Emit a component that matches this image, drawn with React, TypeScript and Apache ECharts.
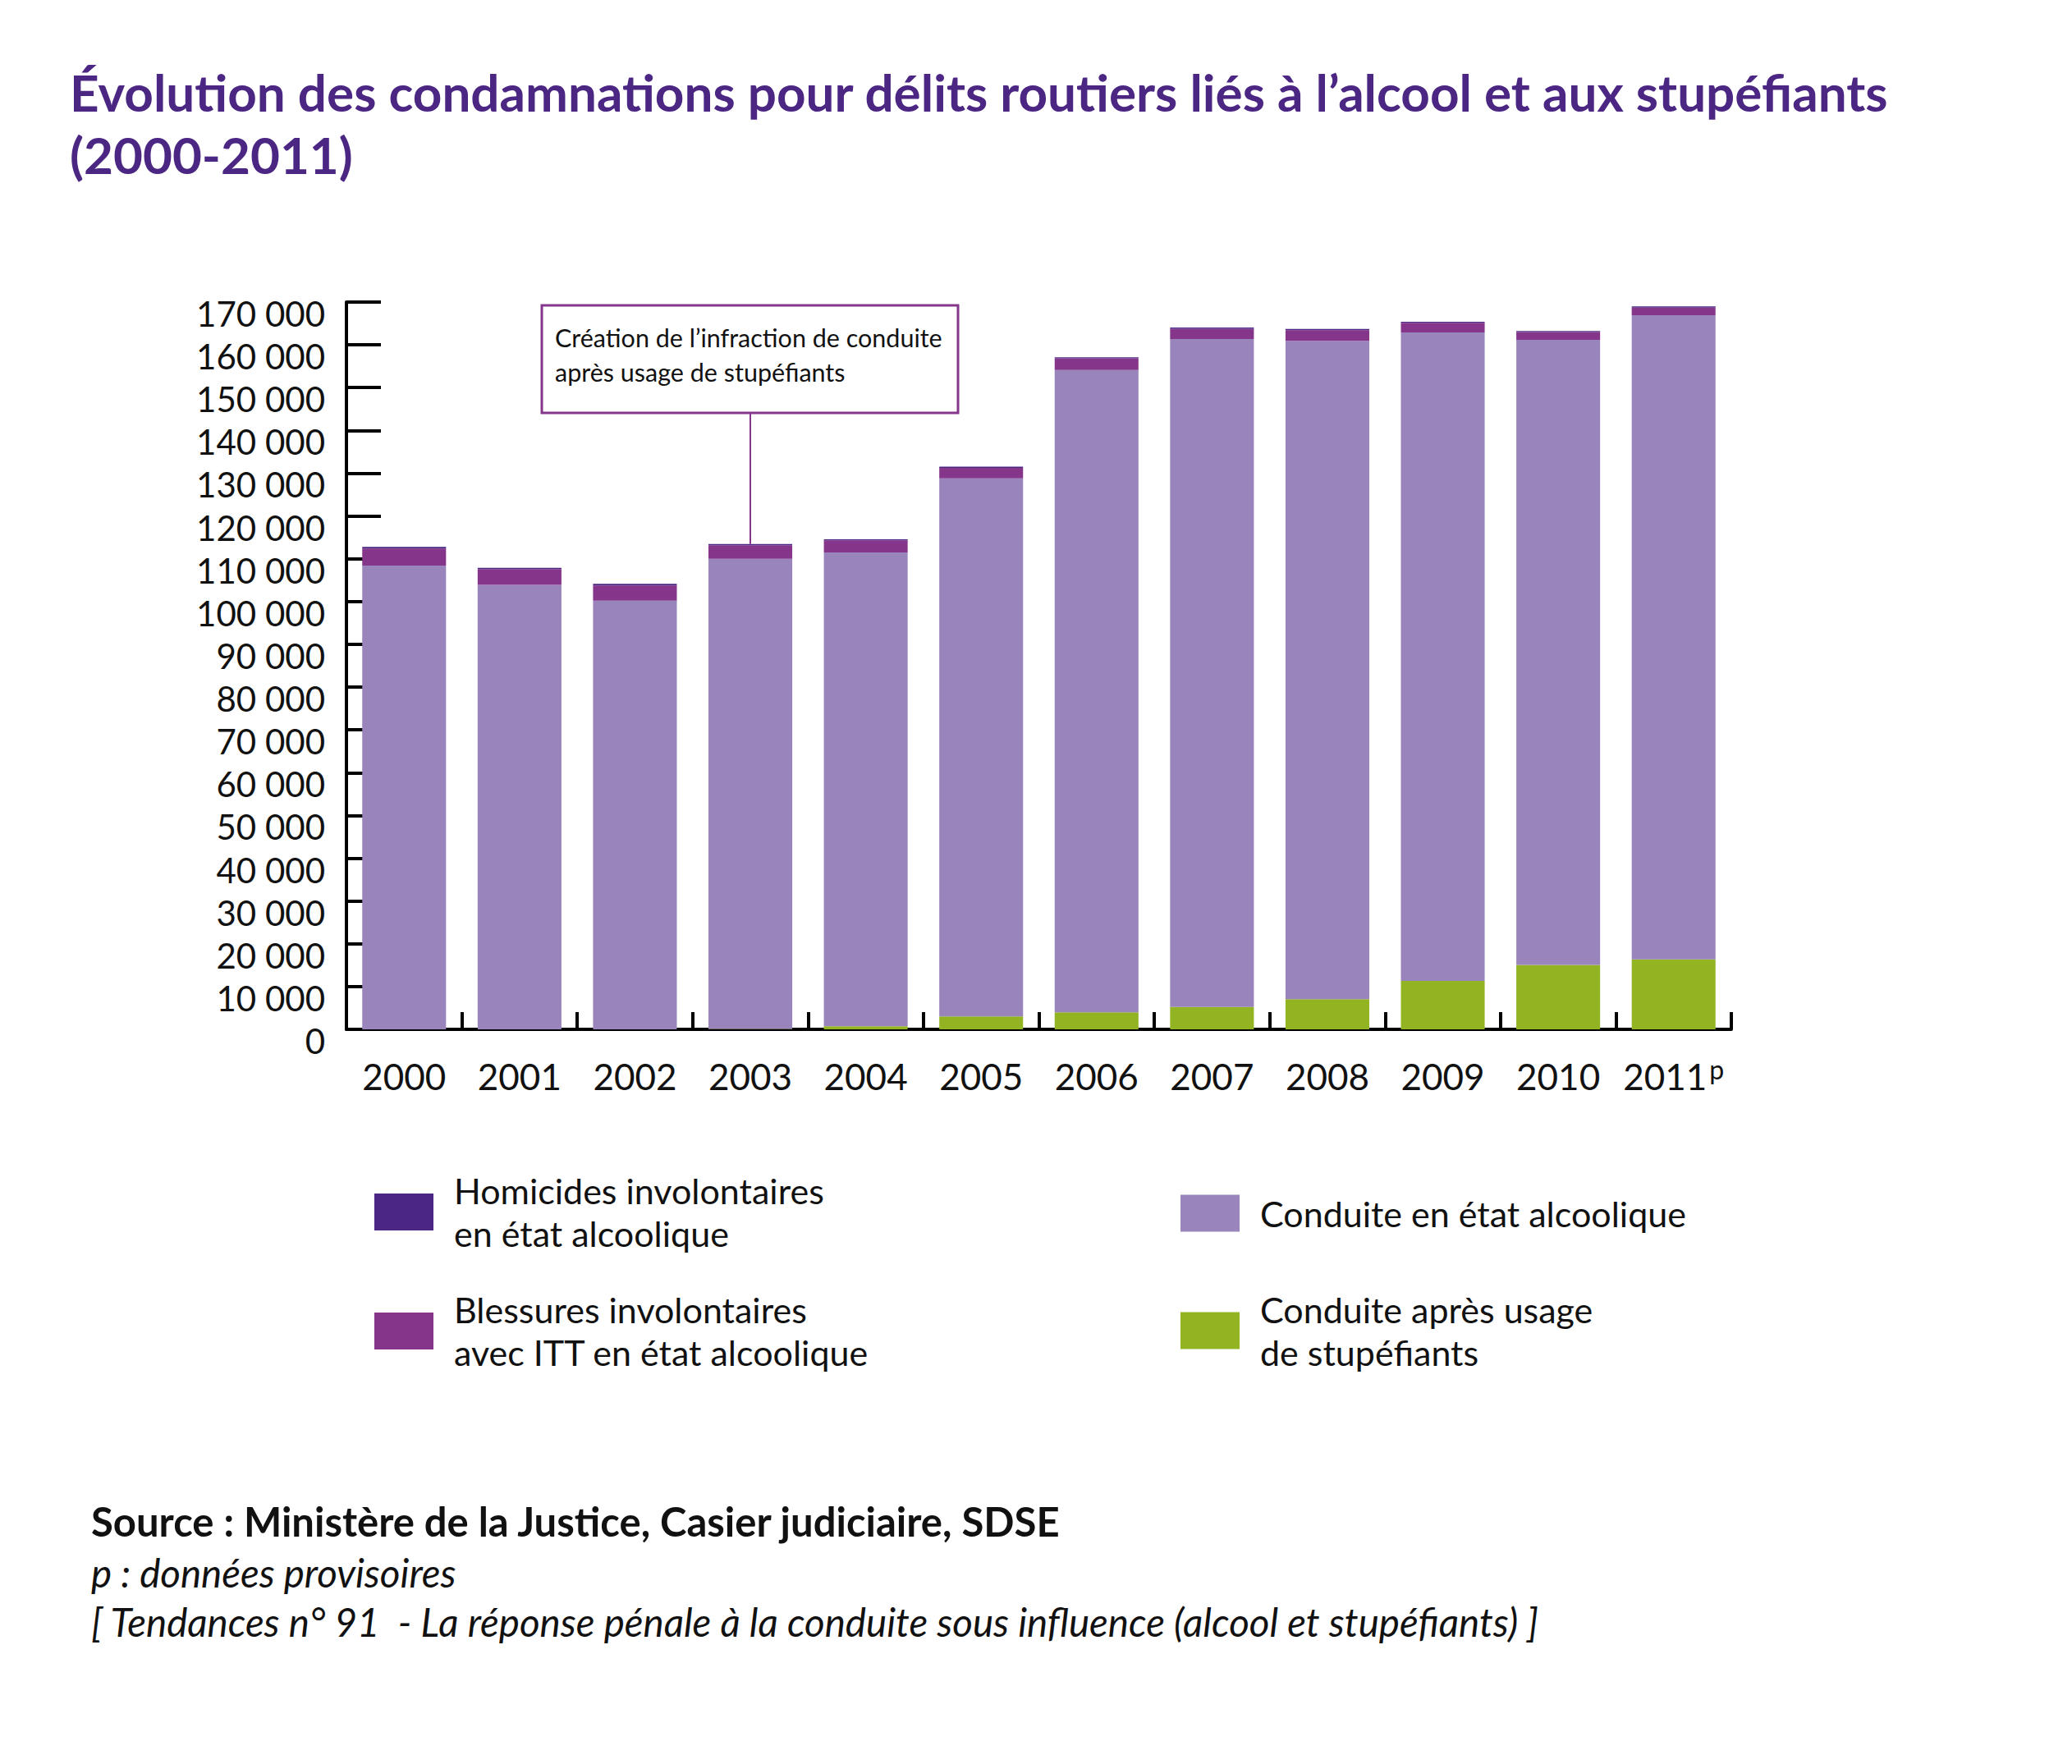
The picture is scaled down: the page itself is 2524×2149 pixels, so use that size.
import * as echarts from "echarts";
import React, { useEffect, useRef } from "react";

// données
const annees = ["2000", "2001", "2002", "2003", "2004", "2005", "2006", "2007", "2008", "2009", "2010", "2011"];
const stupefiants = [0, 0, 0, 100, 700, 3000, 4000, 5250, 7050, 11300, 15050, 16350];
const conduiteAlcool = [108400, 103900, 100200, 109900, 110800, 125800, 150100, 156100, 153900, 151600, 146100, 150600];
const blessures = [4000, 3700, 3550, 3150, 2800, 2450, 2750, 2400, 2500, 2250, 1850, 1750];
const homicides = [350, 300, 400, 300, 250, 300, 270, 300, 250, 250, 250, 300];

const yMax = 170000;
const yInterval = 10000;

// annotation : création de l'infraction en 2003
const anneeAnnotation = "2003";
const basBoiteAnnotation = 144100;

const noms = {
    homicides: "Homicides involontaires en état alcoolique",
    blessures: "Blessures involontaires avec ITT en état alcoolique",
    alcool: "Conduite en état alcoolique",
    stup: "Conduite après usage de stupéfiants",
};

const libellesLegende: Record<string, string> = {
    [noms.homicides]: "Homicides involontaires\nen état alcoolique",
    [noms.blessures]: "Blessures involontaires\navec ITT en état alcoolique",
    [noms.alcool]: "Conduite en état alcoolique",
    [noms.stup]: "Conduite après usage\nde stupéfiants",
};

const couleurs = {
    homicides: "#4b2683",
    blessures: "#85358a",
    alcool: "#9a84bc",
    stup: "#92b422",
};

const FONT = "Lato";

const formatMilliers = (v: number) => (v === 0 ? "0" : `${Math.round(v / 1000)} 000`);

const CondamnationsChart: React.FC = () => {
    const chartRef = useRef<HTMLDivElement>(null);

    useEffect(() => {
        document.body.style.margin = "0";
        if (!chartRef.current) return;
        const chart = echarts.init(chartRef.current, undefined, { renderer: "svg" });

        const idx = annees.indexOf(anneeAnnotation);
        const total2003 = stupefiants[idx] + conduiteAlcool[idx] + blessures[idx] + homicides[idx];

        const legende = (name: string, left: number, top: number, pad: number[]) => ({
            data: [name],
            left,
            top,
            padding: 0,
            itemWidth: 72,
            itemHeight: 45,
            icon: "rect",
            selectedMode: false,
            formatter: (n: string) => libellesLegende[n],
            textStyle: {
                fontFamily: FONT,
                fontSize: 43,
                lineHeight: 52,
                color: "#111",
                padding: pad,
            },
        });

        const barre = { type: "bar" as const, stack: "total", barCategoryGap: "27.4%" };

        chart.setOption({
            animation: false,
            textStyle: { fontFamily: FONT },
            title: {
                text: "Évolution des condamnations pour délits routiers liés à l’alcool et aux stupéfiants\n(2000-2011)",
                left: 85,
                top: 74,
                padding: 0,
                textStyle: {
                    fontFamily: FONT,
                    fontSize: 62,
                    fontWeight: "bold",
                    lineHeight: 76,
                    color: "#4b2683",
                },
            },
            grid: { left: 422, right: 415, top: 368, bottom: 895, containLabel: false },
            xAxis: {
                type: "category",
                data: annees,
                boundaryGap: true,
                axisLine: { lineStyle: { color: "#000", width: 4 } },
                axisTick: { show: true, inside: true, length: 21, alignWithLabel: false, lineStyle: { color: "#000", width: 4 } },
                axisLabel: {
                    interval: 0,
                    color: "#111",
                    fontFamily: FONT,
                    fontSize: 44,
                    lineHeight: 50,
                    margin: 32,
                    formatter: (v: string) => (v === "2011" ? "2011{p|p}" : v),
                    rich: {
                        p: { fontFamily: FONT, fontSize: 32, lineHeight: 32, verticalAlign: "top", color: "#111", padding: [0, 0, 0, 3] },
                    },
                },
            },
            yAxis: {
                type: "value",
                min: 0,
                max: yMax,
                interval: yInterval,
                axisLine: { show: true, lineStyle: { color: "#000", width: 4 } },
                axisTick: { show: true, inside: true, length: 42, lineStyle: { color: "#000", width: 4 } },
                splitLine: { show: false },
                axisLabel: {
                    color: "#111",
                    fontFamily: FONT,
                    fontSize: 42,
                    lineHeight: 28,
                    verticalAlign: "top",
                    margin: 26,
                    formatter: formatMilliers,
                },
            },
            legend: [
                legende(noms.homicides, 456, 1401, [47, 0, 0, 20]),
                legende(noms.blessures, 456, 1535, [69, 0, 0, 20]),
                legende(noms.alcool, 1438, 1447, [0, 0, 10, 20]),
                legende(noms.stup, 1438, 1551, [36, 0, 0, 20]),
            ],
            series: [
                { ...barre, name: noms.stup, data: stupefiants, itemStyle: { color: couleurs.stup } },
                { ...barre, name: noms.alcool, data: conduiteAlcool, itemStyle: { color: couleurs.alcool } },
                { ...barre, name: noms.blessures, data: blessures, itemStyle: { color: couleurs.blessures } },
                {
                    ...barre,
                    name: noms.homicides,
                    data: homicides,
                    itemStyle: { color: couleurs.homicides },
                    markLine: {
                        silent: true,
                        symbol: "none",
                        label: { show: false },
                        lineStyle: { color: "#86368b", width: 2, type: "solid" },
                        data: [[{ coord: [anneeAnnotation, basBoiteAnnotation] }, { coord: [anneeAnnotation, total2003] }]],
                    },
                },
            ],
            graphic: [
                {
                    type: "rect",
                    shape: { x: 660, y: 372, width: 507, height: 131 },
                    style: { fill: "#fff", stroke: "#86368b", lineWidth: 3 },
                    z: 10,
                },
                {
                    type: "text",
                    x: 676,
                    y: 390,
                    z: 11,
                    style: {
                        text: "Création de l’infraction de conduite\naprès usage de stupéfiants",
                        fontFamily: FONT,
                        fontSize: 30.5,
                        lineHeight: 42,
                        fill: "#111",
                        verticalAlign: "top",
                    },
                },
                {
                    type: "text",
                    x: 111,
                    y: 1825,
                    style: {
                        text: "Source : Ministère de la Justice, Casier judiciaire, SDSE",
                        fontFamily: FONT,
                        fontSize: 49,
                        fontWeight: "bold",
                        lineHeight: 56,
                        fill: "#111",
                        verticalAlign: "top",
                    },
                },
                {
                    type: "text",
                    x: 111,
                    y: 1885,
                    style: {
                        text: "p : données provisoires\n[ Tendances n° 91  - La réponse pénale à la conduite sous influence (alcool et stupéfiants) ]",
                        fontFamily: FONT,
                        fontSize: 47.5,
                        fontStyle: "italic",
                        lineHeight: 60,
                        fill: "#111",
                        verticalAlign: "top",
                    },
                },
            ],
        });

        const handleResize = () => chart.resize();
        window.addEventListener("resize", handleResize);
        return () => { chart.dispose(); window.removeEventListener("resize", handleResize); };
    }, []);

    return <div ref={chartRef} style={{ width: 2524, height: 2149, background: "#fff" }} />;
};

const App: React.FC = () => <CondamnationsChart />;

export default App;
